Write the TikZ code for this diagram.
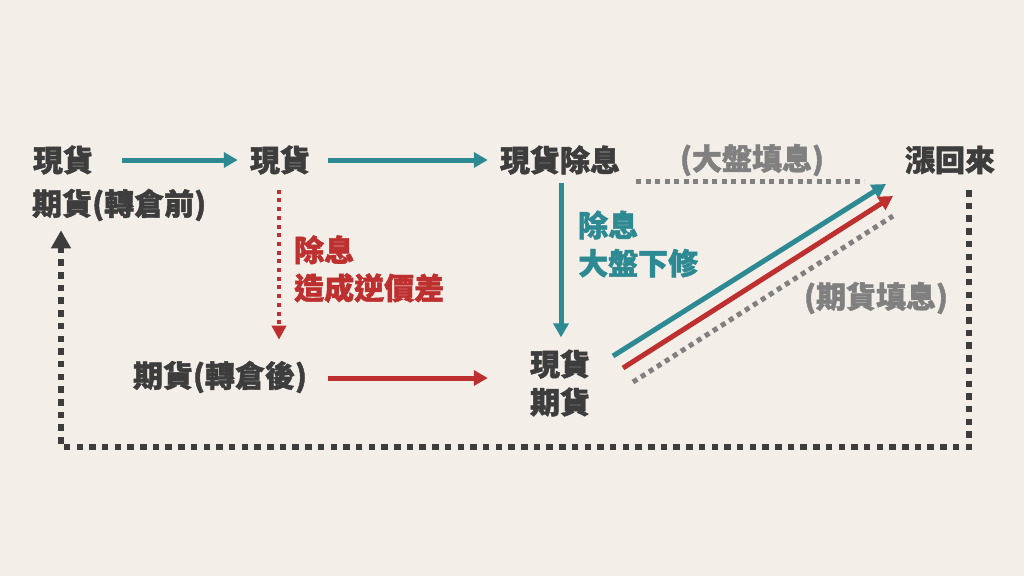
\documentclass[tikz,border=0pt]{standalone}
\usepackage{fontspec}
\setmainfont{Noto Sans CJK TC}[BoldFeatures={FakeBold=1.5}]
\usetikzlibrary{calc, positioning}
\usetikzlibrary{arrows.meta}
\definecolor{bgc}{HTML}{F3EEE8}
\definecolor{ink}{HTML}{3D3D3D}
\definecolor{tealc}{HTML}{2E8A92}
\definecolor{redc}{HTML}{BE2F2F}
\definecolor{grayc}{HTML}{808080}
\begin{document}
\begin{tikzpicture}[x=1pt,y=-1pt,line join=miter,
  lbl/.style={font=\bfseries\fontsize{30}{38}\selectfont,text=ink,inner sep=0pt,align=left},
  flow/.style={line width=5pt,-{Triangle[length=14pt,width=15pt]}},
  reddots/.style={redc,line width=4pt,dash pattern=on 4pt off 4.7pt,-{Triangle[length=14pt,width=14pt]}},
  graydots/.style={grayc,line width=5pt,dash pattern=on 5pt off 4.5pt},
  backline/.style={ink,line width=6.5pt,dash pattern=on 6.5pt off 6.2pt,-{Triangle[length=18pt,width=19pt]}}]
\path[use as bounding box] (0,0) rectangle (1024,576);
\fill[bgc] (0,0) rectangle (1024,576);

\node[lbl] (spotA) at (63,160) {現貨};
\node[lbl,anchor=west] (futA) at (32,205) {期貨(轉倉前)};
\node[lbl] (spotB) at (280,160) {現貨};
\node[lbl] (spotX) at (560,160) {現貨除息};
\node[lbl,text=grayc] (idxfill) at (752,160) {(大盤填息)};
\node[lbl] (rise) at (950,160) {漲回來};
\node[lbl,text=redc,anchor=west] (backw) at (294,269) {除息\\造成逆價差};
\node[lbl,text=tealc,anchor=west] (idxdrop) at (578,244) {除息\\大盤下修};
\node[lbl] (futB) at (220,377) {期貨(轉倉後)};
\node[lbl,align=center] (both) at (560,383) {現貨\\期貨};
\node[lbl,text=grayc] (futfill) at (876,298) {(期貨填息)};

\coordinate (Tstart) at (613,356);
\coordinate (Tend) at (886,184);
\coordinate (Rstart) at (623,368);
\coordinate (Rend) at (893,196);
\coordinate (Gstart) at (633,382);
\coordinate (Gend) at (893,216);
\coordinate (Hstart) at (636,181);
\coordinate (Hend) at (864,181);
\coordinate (loopR) at (969,190);
\coordinate (loopL) at (61,447);

\draw[flow,tealc,shorten <=29pt,shorten >=12pt] (spotA.east) -- (spotB.west);
\draw[flow,tealc,shorten <=18pt,shorten >=12pt] (spotB.east) -- (spotX.west);
\draw[flow,tealc,shorten <=8pt,shorten >=12pt] ([xshift=1pt]spotX.south) -- ([xshift=1pt]spotX.south |- both.north);
\draw[reddots,shorten <=15pt,shorten >=21pt] ([xshift=-1pt]spotB.south) -- ([xshift=-1pt]spotB.south |- futB.north);
\draw[flow,redc,shorten <=21pt,shorten >=42pt] ([yshift=-1pt]futB.east) -- ([yshift=-1pt]futB.east -| both.west);

\draw[flow,tealc] (Tstart) -- (Tend);
\draw[flow,redc] (Rstart) -- (Rend);
\draw[graydots] (Gstart) -- (Gend);
\draw[graydots] (Hstart) -- (Hend);

\draw[backline,shorten >=9pt] (loopR) |- (loopL) -- (loopL |- futA.south);
\end{tikzpicture}
\end{document}
